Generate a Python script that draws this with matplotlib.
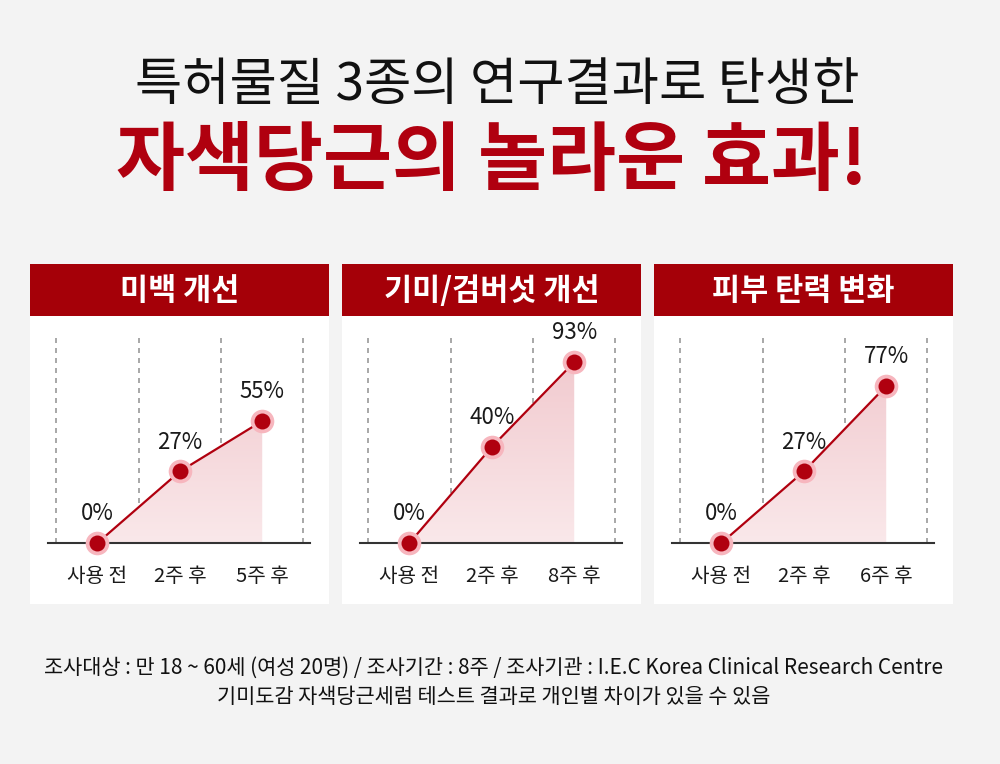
import matplotlib.pyplot as plt
import numpy as np
from matplotlib.patches import Rectangle
from matplotlib.colors import LinearSegmentedColormap

plt.rcParams['font.family'] = ['Noto Sans CJK KR', 'DejaVu Sans']

# data
panel_titles = ['미백 개선', '기미/검버섯 개선', '피부 탄력 변화']
categories = [['사용 전', '2주 후', '5주 후'],
              ['사용 전', '2주 후', '8주 후'],
              ['사용 전', '2주 후', '6주 후']]
values = [[0, 27, 55],
          [0, 40, 93],
          [0, 27, 77]]

title1 = '특허물질 3종의 연구결과로 탄생한'
title2 = '자색당근의 놀라운 효과!'
note1 = '조사대상 : 만 18 ~ 60세 (여성 20명) / 조사기간 : 8주 / 조사기관 : I.E.C Korea Clinical Research Centre'
note2 = '기미도감 자색당근세럼 테스트 결과로 개인별 차이가 있을 수 있음'

W, H = 1000, 764
bg = '#f3f3f3'
red = '#a50008'
line_red = '#b0000f'

fig = plt.figure(figsize=(W / 100, H / 100), dpi=100, facecolor=bg)


def fx(px):
    return px / W


def fy(py):
    return 1 - py / H


fig.text(0.497, fy(85), title1, ha='center', va='center', fontsize=37, color='#111111')
fig.text(0.492, fy(162), title2, ha='center', va='center', fontsize=54,
         fontweight='heavy', color=line_red)

panel_left = [30, 342, 654]
panel_w = 299
grad = np.linspace(0, 1, 256).reshape(-1, 1)
pink = LinearSegmentedColormap.from_list('pk', ['#fae8ea', '#f0c6cb'])


def fwd(v):
    return np.sign(v) * np.abs(v) ** 0.75


def inv(v):
    return np.sign(v) * np.abs(v) ** (1 / 0.75)


for i in range(3):
    x0 = panel_left[i]
    fig.patches.append(Rectangle((fx(x0), fy(604)), fx(panel_w), fy(316) - fy(604),
                                 transform=fig.transFigure, facecolor='white',
                                 edgecolor='none', zorder=0))
    fig.patches.append(Rectangle((fx(x0), fy(316)), fx(panel_w), fy(264) - fy(316),
                                 transform=fig.transFigure, facecolor=red,
                                 edgecolor='none', zorder=0))
    fig.text(fx(x0 + panel_w / 2), fy(291), panel_titles[i], ha='center', va='center',
             fontsize=22, fontweight='bold', color='white')

    ax = fig.add_axes([fx(x0 + 18), fy(543), fx(262), fy(335) - fy(543)], zorder=2)
    ax.set_facecolor('none')
    ax.set_yscale('function', functions=(fwd, inv))
    ax.set_xlim(-0.6, 2.58)
    ax.set_ylim(0, 112)
    ax.axis('off')

    xs = np.arange(3)
    vals = values[i]
    for xv in [-0.5, 0.5, 1.5, 2.5]:
        ax.axvline(xv, color='#999999', lw=1.2, ls=(0, (3, 3)), zorder=1)
    ax.axhline(0, color='#333333', lw=1.5, zorder=2, clip_on=False)

    poly = ax.fill_between(xs, 0, vals, color='none', lw=0)
    img = ax.imshow(grad, cmap=pink, aspect='auto', extent=[0, 1, 0, 1],
                    transform=ax.transAxes, origin='lower', zorder=1.5)
    img.set_clip_path(poly.get_paths()[0], transform=ax.transData)

    ax.plot(xs, vals, color=line_red, lw=1.6, zorder=3, clip_on=False)
    ax.plot(xs, vals, 'o', ms=17, color='#f7b6be', mec='none', zorder=4, clip_on=False)
    ax.plot(xs, vals, 'o', ms=11.5, color=line_red, mec='none', zorder=5, clip_on=False)

    for xv, v in zip(xs, vals):
        ax.annotate(f'{v}%', (xv, v), xytext=(0, 21), textcoords='offset points',
                    ha='center', va='center', fontsize=16, color='#1a1a1a')
        ax.annotate(categories[i][xv], (xv, 0), xytext=(0, -24), textcoords='offset points',
                    ha='center', va='center', fontsize=14.5, color='#1a1a1a')

fig.text(0.494, fy(668), note1, ha='center', va='center', fontsize=15,
         fontweight='medium', color='#111111')
fig.text(0.494, fy(697), note2, ha='center', va='center', fontsize=15,
         fontweight='medium', color='#111111')

fig.savefig('out.png', dpi=100, facecolor=bg)
